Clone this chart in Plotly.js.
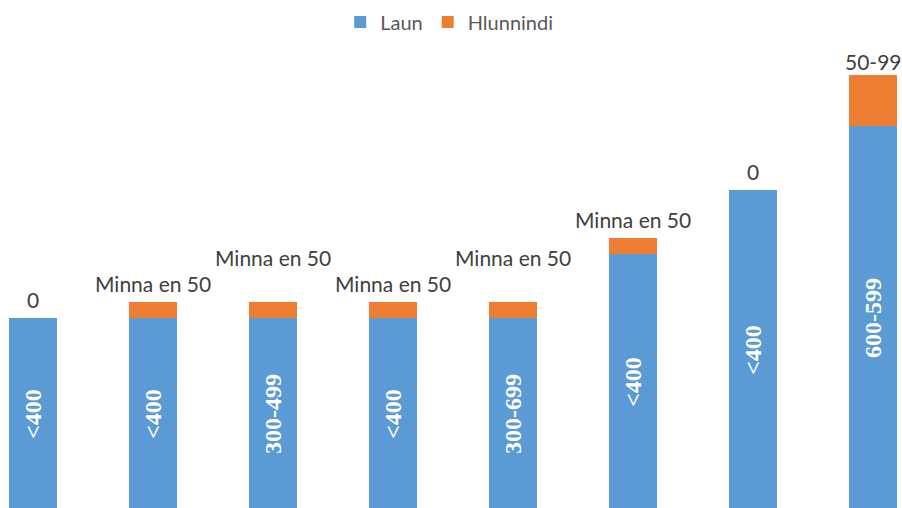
<!DOCTYPE html>
<html>
<head>
<meta charset="utf-8">
<script src="https://cdn.plot.ly/plotly-3.0.1.min.js"></script>
<style>html,body{margin:0;padding:0;background:#fff;}#chart{width:902px;height:508px;}</style>
</head>
<body>
<div id="chart"></div>
<script>
const categories = ["A1","A2","A3","A4","A5","A6","A7","A8"];
const launValues = [3, 3, 3, 3, 3, 4, 5, 6];
const hlunnindiValues = [0, 0.25, 0.25, 0.25, 0.25, 0.25, 0, 0.8];
const launLabels = ["<400", "<400", "300-499", "<400", "300-699", "<400", "<400", "600-599"];
const hlunnindiLabels = ["0", "Minna en 50", "Minna en 50", "Minna en 50", "Minna en 50", "Minna en 50", "0", "50-99"];

const labelFont = {family: "Lato, 'Open Sans', sans-serif", size: 21, color: "#404040"};
const extraLift = {2: 26, 4: 26, 7: -6};

const traces = [
  {
    type: "bar", name: "Laun", x: categories, y: launValues,
    marker: {color: "#5B9BD5"},
    text: launLabels, textposition: "inside", insidetextanchor: "middle",
    textangle: -90, constraintext: "none",
    insidetextfont: {family: "'Liberation Serif', 'Times New Roman', serif", size: 24, color: "#ffffff", weight: "bold"},
    hoverinfo: "none"
  },
  {
    type: "bar", name: "Hlunnindi", x: categories, y: hlunnindiValues,
    marker: {color: "#ED7D31"}, hoverinfo: "none", textposition: "none"
  }
];

const annotations = categories.map((c, i) => ({
  x: c, y: launValues[i] + hlunnindiValues[i], xref: "x", yref: "y",
  text: hlunnindiLabels[i], showarrow: false, font: labelFont,
  yanchor: "middle", yshift: 19 + (extraLift[i] || 0)
}));

const layout = {
  width: 902, height: 508,
  margin: {l: 0, r: 0, t: 0, b: 0},
  paper_bgcolor: "#ffffff", plot_bgcolor: "#ffffff",
  barmode: "stack", bargap: 0.6,
  showlegend: true,
  legend: {orientation: "h", x: 0.498, xanchor: "center", y: 0.995, yanchor: "top",
           font: {family: "Lato, sans-serif", size: 20, color: "#595959"}, traceorder: "normal"},
  xaxis: {range: [-0.275, 7.2417], showgrid: false, zeroline: false, showticklabels: false, showline: false, ticks: ""},
  yaxis: {range: [0.03125, 7.96875], showgrid: false, zeroline: false, showticklabels: false, showline: false, ticks: ""},
  annotations: annotations
};

Plotly.newPlot("chart", traces, layout, {displayModeBar: false, staticPlot: true});
</script>
</body>
</html>
